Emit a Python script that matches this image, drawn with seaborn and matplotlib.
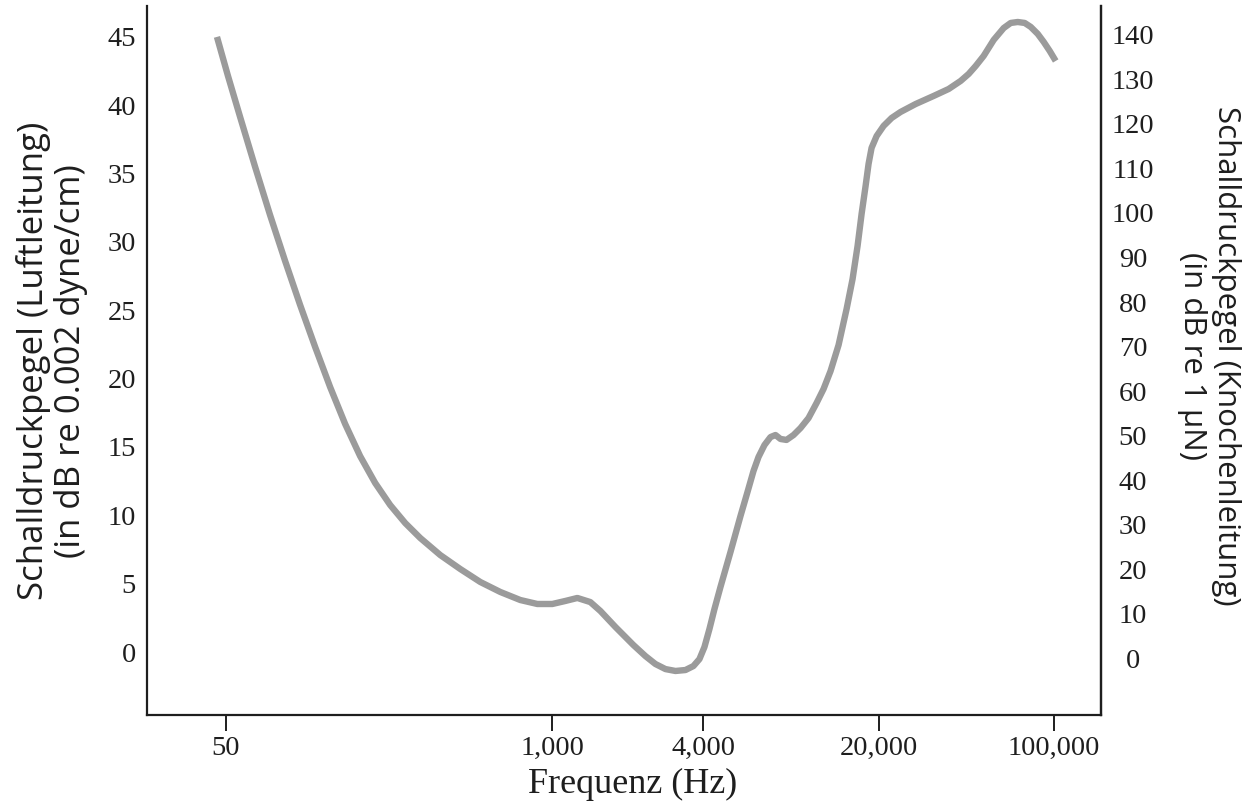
import numpy as np
import pandas as pd
import matplotlib
matplotlib.use("Agg")
import matplotlib.pyplot as plt
import seaborn as sns

# Hörschwellenkurve: Frequenz (Hz) gegen Schalldruckpegel (dB, Luftleitung)
frequenz_hz = [46.0, 50.9, 56.9, 65.3, 74.9, 86.0, 98.7, 113.3, 130.0, 149.2,
               171.2, 196.6, 225.6, 259.0, 297.2, 357.3, 429.3, 516.0, 620.0,
               745.1, 871.0, 999.7, 1126, 1258, 1417, 1554, 1784, 2104, 2350,
               2576, 2824, 3096, 3394, 3651, 3859, 4040, 4230, 4429, 4680,
               5131, 5626, 5998, 6339, 6636, 7012, 7411, 7758, 8121, 8581,
               9154, 9761, 10505, 11310, 12060, 12860, 13840, 14900, 15740,
               16480, 17100, 17740, 18230, 18740, 19630, 20930, 22530, 24460,
               28080, 33130, 38030, 42460, 45690, 48730, 52450, 57510, 63040,
               67220, 71700, 76440, 80790, 86150, 91030, 96180, 101600]
pegel_db = [44.92, 42.06, 39.06, 35.41, 31.89, 28.53, 25.31, 22.24, 19.31,
            16.61, 14.26, 12.29, 10.68, 9.36, 8.27, 7.02, 6.00, 5.05, 4.32,
            3.73, 3.44, 3.44, 3.66, 3.88, 3.58, 2.93, 1.76, 0.44, -0.37,
            -0.95, -1.32, -1.46, -1.39, -1.10, -0.59, 0.29, 1.61, 3.07, 4.68,
            7.24, 9.88, 11.63, 13.17, 14.19, 15.07, 15.65, 15.80, 15.51,
            15.44, 15.80, 16.31, 17.04, 18.14, 19.17, 20.48, 22.38, 25.02,
            27.21, 29.63, 31.97, 34.02, 35.63, 36.80, 37.67, 38.41, 38.99,
            39.43, 40.01, 40.60, 41.11, 41.70, 42.21, 42.79, 43.53, 44.70,
            45.57, 45.94, 46.01, 45.94, 45.65, 45.14, 44.55, 43.89, 43.16]

x_ticks = [50, 1000, 4000, 20000, 100000]
x_ticklabels = ["50", "1,000", "4,000", "20,000", "100,000"]
left_ticks = list(range(0, 50, 5))
right_ticks = list(range(0, 150, 10))

df = pd.DataFrame({"Frequenz": frequenz_hz, "Pegel": pegel_db})

sns.set_theme(style="white")
plt.rcParams["font.family"] = ["Liberation Serif", "DejaVu Serif"]

W, H = 1257, 803
fig = plt.figure(figsize=(W / 100, H / 100), dpi=100)
ax = fig.add_axes([147 / W, 1 - 716 / H, (1101 - 147) / W, (716 - 7) / H])

sns.lineplot(data=df, x="Frequenz", y="Pegel", ax=ax, estimator=None,
             sort=False, color="#9b9b9b", linewidth=4.6,
             solid_joinstyle="round", solid_capstyle="butt")

ax.set_xscale("log")
ax.set_xlim(24.2, 154000)
ax.set_ylim(-4.68, 47.18)
ax.set_xticks(x_ticks)
ax.set_xticklabels(x_ticklabels)
ax.xaxis.set_minor_locator(matplotlib.ticker.NullLocator())
ax.set_yticks(left_ticks)
ax.set_yticklabels([str(t) for t in left_ticks])
ax.set_xlabel("")
ax.set_ylabel("")

ink = "#1e1e1e"
ax.tick_params(axis="x", which="major", direction="out", length=11.5,
               width=1.4, color=ink, labelsize=20.5, labelcolor=ink, pad=3,
               bottom=True)
ax.tick_params(axis="y", length=0, labelsize=20.5, labelcolor=ink, pad=8)

for side in ["left", "bottom", "right"]:
    ax.spines[side].set_visible(True)
    ax.spines[side].set_color(ink)
    ax.spines[side].set_linewidth(1.6)
ax.spines["top"].set_visible(False)

# Zweite Skala: Knochenleitung
ax2 = ax.twinx()
ax2.set_ylim(-12.9, 146.2)
ax2.set_yticks(right_ticks)
ax2.set_yticklabels([str(t) for t in right_ticks], ha="center")
ax2.tick_params(axis="y", length=0, labelsize=20.5, labelcolor=ink, pad=23)
for side in ["left", "bottom", "top"]:
    ax2.spines[side].set_visible(False)
ax2.spines["right"].set_color(ink)
ax2.spines["right"].set_linewidth(1.6)

fig.text(633 / W, 1 - 784 / H, "Frequenz (Hz)", ha="center", va="center",
         fontsize=26, color=ink)

sans = ["Open Sans", "DejaVu Sans"]
fig.text(52 / W, 1 - 361 / H,
         "Schalldruckpegel (Luftleitung)\n(in dB re 0.002 dyne/cm)",
         rotation=90, ha="center", va="center", multialignment="center",
         fontsize=25, family=sans, color=ink, linespacing=1.1)
fig.text(1209 / W, 1 - 356 / H,
         "Schalldruckpegel (Knochenleitung)\n(in dB re 1 µN)",
         rotation=-90, ha="center", va="center", multialignment="center",
         fontsize=22.5, family=sans, color=ink, linespacing=1.15)

fig.savefig("out.png", dpi=100)
